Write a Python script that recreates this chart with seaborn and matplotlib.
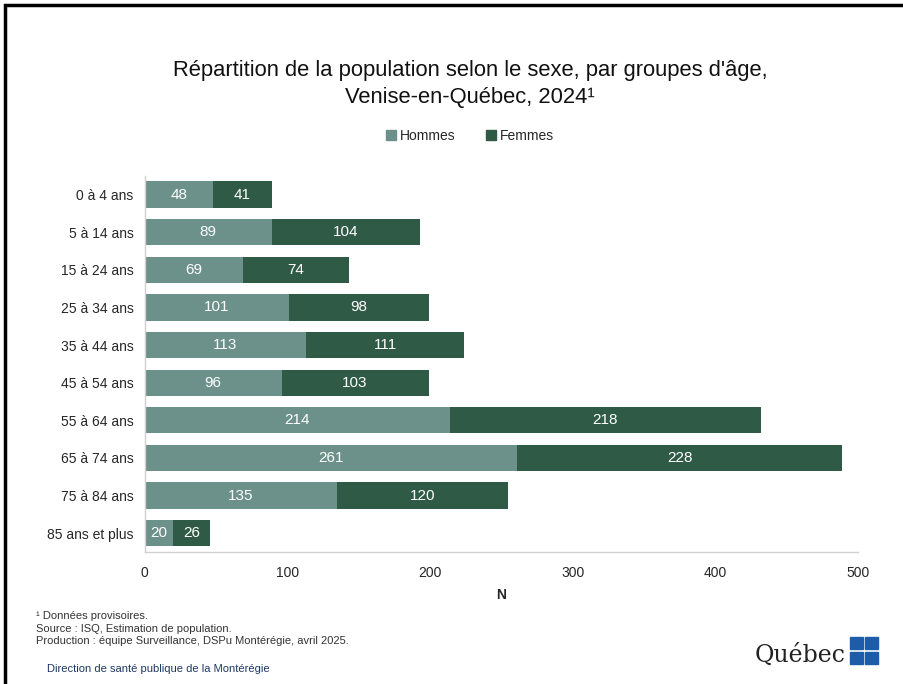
import pandas as pd
import matplotlib.pyplot as plt
import matplotlib.patches as mpatches
import seaborn as sns

# Data
groupes = ['0 à 4 ans', '5 à 14 ans', '15 à 24 ans', '25 à 34 ans', '35 à 44 ans',
           '45 à 54 ans', '55 à 64 ans', '65 à 74 ans', '75 à 84 ans', '85 ans et plus']
hommes = [48, 89, 69, 101, 113, 96, 214, 261, 135, 20]
femmes = [41, 104, 74, 98, 111, 103, 218, 228, 120, 26]

c_hommes = '#6b918a'
c_femmes = '#2f5b46'

df = pd.DataFrame({'Groupe': groupes, 'Hommes': hommes, 'Femmes': femmes})
df['Total'] = df['Hommes'] + df['Femmes']

sns.set_style('white')
plt.rcParams['font.family'] = ['Liberation Sans', 'DejaVu Sans']

fig = plt.figure(figsize=(9.04, 6.84), dpi=100)
ax = fig.add_axes([0.160, 0.193, 0.789, 0.550])

# stacked bars: total first (femmes colour), hommes on top
sns.barplot(data=df, y='Groupe', x='Total', color=c_femmes, orient='h',
            width=0.7, saturation=1, linewidth=0, ax=ax)
sns.barplot(data=df, y='Groupe', x='Hommes', color=c_hommes, orient='h',
            width=0.7, saturation=1, linewidth=0, ax=ax)

# value labels
bars_tot = ax.containers[0]
bars_h = ax.containers[1]
ax.bar_label(bars_h, labels=[str(v) for v in hommes], label_type='center',
             color='white', fontsize=11)
for rect, v in zip(bars_tot.patches, femmes):
    x0 = rect.get_width() - v
    ax.text(x0 + v / 2, rect.get_y() + rect.get_height() / 2, str(v),
            ha='center', va='center', color='white', fontsize=11)

ax.set_xlim(0, 500)
ax.set_xticks([0, 100, 200, 300, 400, 500])
ax.set_xlabel('N', fontsize=10, fontweight='bold', labelpad=6)
ax.set_ylabel('')
ax.tick_params(axis='x', length=4, color='#d0d0d0', labelsize=10, pad=6)
ax.tick_params(axis='y', length=0, labelsize=10, pad=8)
for s in ['top', 'right']:
    ax.spines[s].set_visible(False)
for s in ['left', 'bottom']:
    ax.spines[s].set_color('#d0d0d0')
    ax.spines[s].set_linewidth(1)

# title
fig.text(0.52, 0.897, "Répartition de la population selon le sexe, par groupes d'âge,",
         ha='center', va='center', fontsize=15.8, color='#111111')
fig.text(0.52, 0.858, "Venise-en-Québec, 2024¹", ha='center', va='center', fontsize=15.8,
         color='#111111')

# legend
handles = [mpatches.Patch(color=c_hommes, label='Hommes'),
           mpatches.Patch(color=c_femmes, label='Femmes')]
fig.legend(handles=handles, loc='center', bbox_to_anchor=(0.52, 0.801), ncol=2,
           frameon=False, fontsize=10, handlelength=0.7, handleheight=0.7,
           handletextpad=0.3, columnspacing=2.2)

# footnotes
foot = ("¹ Données provisoires.\nSource : ISQ, Estimation de population.\n"
        "Production : équipe Surveillance, DSPu Montérégie, avril 2025.")
fig.text(0.04, 0.107, foot, ha='left', va='top', fontsize=8, color='#333333',
         linespacing=1.35)
fig.text(0.052, 0.022, 'Direction de santé publique de la Montérégie', ha='left',
         va='center', fontsize=8, color='#1f3864')

# Quebec logo
fig.text(0.935, 0.042, 'Québec', ha='right', va='center', fontsize=17,
         family='DejaVu Serif', color='#222222')
for dx in (0, 1):
    for dy in (0, 1):
        fig.patches.append(mpatches.Rectangle((0.9405 + dx * 0.0165, 0.029 + dy * 0.0215),
                                              0.0145, 0.0185, transform=fig.transFigure,
                                              color='#1c5cab'))

# slide frame
fig.patches.append(mpatches.Rectangle((0.006, -0.05), 1.2, 1.043, transform=fig.transFigure,
                                      fill=False, edgecolor='black', linewidth=2.5))

fig.savefig('out.png', dpi=100)
